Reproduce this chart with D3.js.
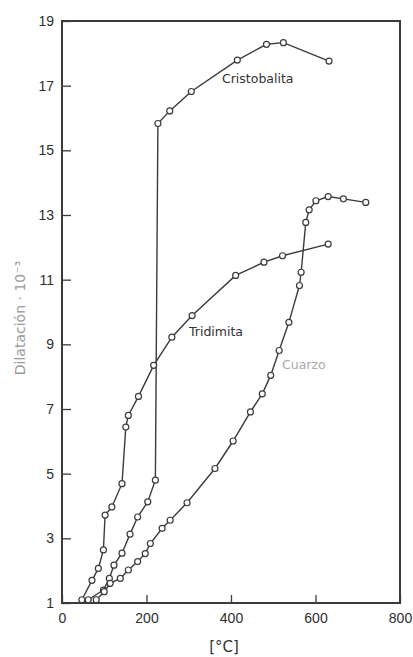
<!DOCTYPE html>
<html>
<head>
<meta charset="utf-8">
<script src="https://cdn.jsdelivr.net/npm/d3@7"></script>
<style>
  body { margin: 0; background: #fff; }
  svg { display: block; font-family: "DejaVu Sans", sans-serif; }
</style>
</head>
<body>
<div id="chart"></div>
<script>
// datos: [temperatura °C, dilatacion ·10^-3]
const cristobalita = [[62,1.1],[98,1.4],[112,1.76],[123,2.17],[142,2.54],[161,3.13],[179,3.66],[203,4.13],[221,4.8],
    [227,15.83],[255,16.22],[306,16.82],[415,17.79],[484,18.28],[524,18.33],[632,17.76]];
const tridimita = [[47,1.1],[71,1.7],[86,2.07],[98,2.64],[102,3.72],[118,3.97],[142,4.69],[151,6.44],[157,6.8],
    [181,7.39],[217,8.35],[260,9.22],[308,9.89],[411,11.13],[478,11.54],[522,11.74],[630,12.1]];
const cuarzo = [[81,1.1],[100,1.35],[114,1.61],[138,1.76],[157,2.02],[179,2.28],[197,2.53],[209,2.84],[237,3.31],
    [256,3.56],[296,4.1],[362,5.16],[405,6.01],[446,6.91],[474,7.47],[494,8.04],[514,8.81],[537,9.68],
    [562,10.82],[566,11.23],[577,12.77],[585,13.16],[601,13.44],[630,13.57],[666,13.5],[719,13.39]];

const xTicks = [0, 200, 400, 600, 800];
const yTicks = [1, 3, 5, 7, 9, 11, 13, 15, 17, 19];

const W = 413, H = 657;
const ink = "#3b3b3b";

const svg = d3.select("#chart").append("svg")
    .attr("width", W)
    .attr("height", H);

const x = d3.scaleLinear().domain([0, 800]).range([62, 400]);
const y = d3.scaleLinear().domain([1, 19]).range([603, 21]);

// marco
svg.append("rect")
    .attr("x", x(0)).attr("y", y(19))
    .attr("width", x(800) - x(0)).attr("height", y(1) - y(19))
    .attr("fill", "none").attr("stroke", ink).attr("stroke-width", 2);

// ejes con marcas hacia dentro
const gy = svg.append("g")
    .attr("transform", `translate(${x(0)},0)`)
    .call(d3.axisLeft(y).tickValues(yTicks).tickSize(-9).tickPadding(8));
gy.select(".domain").remove();
gy.selectAll("line").attr("stroke", ink).attr("stroke-width", 1.3);
gy.selectAll("text").attr("font-size", 14).attr("fill", "#2e2e2e");

const gx = svg.append("g")
    .attr("transform", `translate(0,${y(1)})`)
    .call(d3.axisBottom(x).tickValues(xTicks).tickSize(-8).tickPadding(10));
gx.select(".domain").remove();
gx.selectAll("line").attr("stroke", ink).attr("stroke-width", 1.3);
gx.selectAll("text").attr("font-size", 14).attr("fill", "#2e2e2e");

// titulos de ejes
svg.append("text")
    .attr("transform", `translate(25,318) rotate(-90)`)
    .attr("text-anchor", "middle")
    .attr("font-size", 14)
    .attr("fill", "#9a9a9a")
    .text("Dilatación · 10⁻³");

svg.append("text")
    .attr("x", 224).attr("y", 652)
    .attr("text-anchor", "middle")
    .attr("font-size", 15)
    .attr("fill", "#333")
    .text("[°C]");

// curvas
const line = d3.line().x(d => x(d[0])).y(d => y(d[1]));

[cristobalita, tridimita, cuarzo].forEach(serie => {
    svg.append("path")
        .datum(serie)
        .attr("d", line)
        .attr("fill", "none")
        .attr("stroke", ink)
        .attr("stroke-width", 1.4);

    svg.append("g")
        .selectAll("circle")
        .data(serie)
        .enter().append("circle")
        .attr("cx", d => x(d[0]))
        .attr("cy", d => y(d[1]))
        .attr("r", 3)
        .attr("fill", "#fff")
        .attr("stroke", ink)
        .attr("stroke-width", 1.2);
});

// nombres de las curvas
svg.append("text")
    .attr("x", 222).attr("y", 83)
    .attr("font-size", 12.5).attr("fill", "#333")
    .text("Cristobalita");

svg.append("text")
    .attr("x", 189).attr("y", 336)
    .attr("font-size", 12.5).attr("fill", "#333")
    .text("Tridimita");

svg.append("text")
    .attr("x", 282).attr("y", 369)
    .attr("font-size", 12.5).attr("fill", "#aaa")
    .text("Cuarzo");
</script>
</body>
</html>
